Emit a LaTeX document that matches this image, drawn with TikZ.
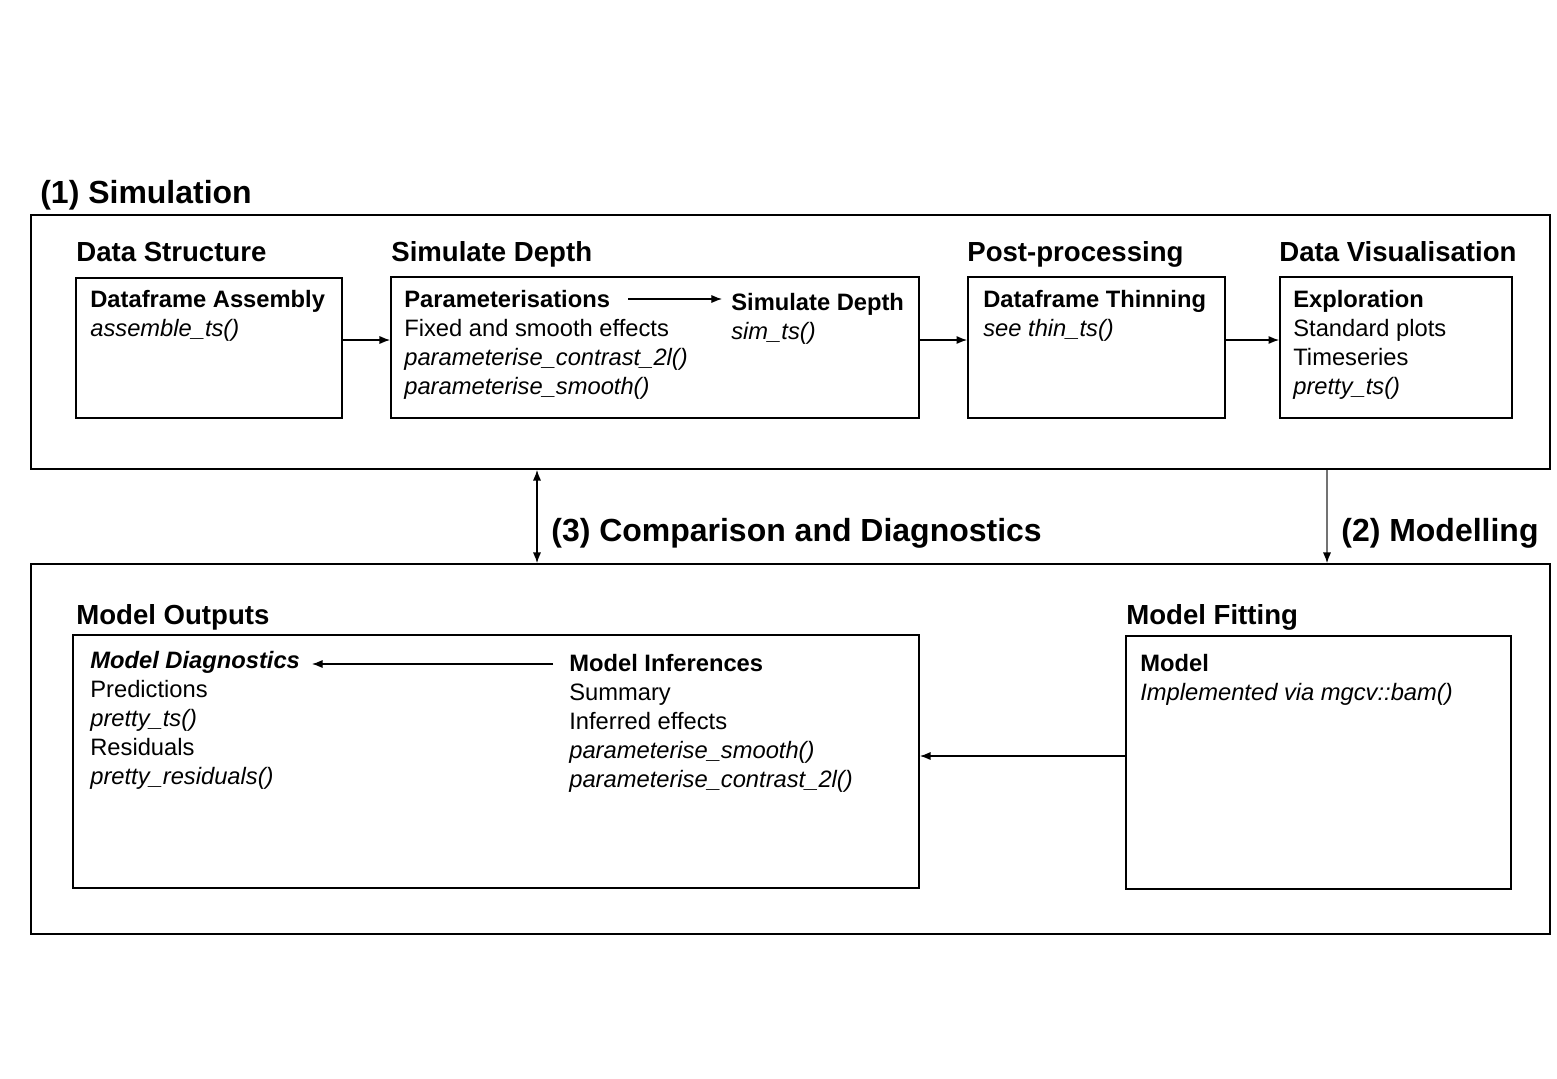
\documentclass[tikz,border=0pt]{standalone}
\usepackage{fontspec}
\setmainfont{Liberation Sans}
\usetikzlibrary{arrows.meta,positioning,fit}

\tikzset{
  box/.style={draw,line width=1.1pt,inner sep=0pt},
  txt/.style={anchor=north west,inner sep=0pt,align=left,font=\fontsize{13.5}{16.5}\selectfont},
  head/.style={anchor=base west,inner sep=0pt,font=\fontsize{15.7}{19}\selectfont\bfseries},
  part/.style={anchor=base west,inner sep=0pt,font=\fontsize{18.2}{22}\selectfont\bfseries},
  link/.style={line width=0.6pt,-{Latex[length=6pt,width=4.6pt]}},
}

\begin{document}
\begin{tikzpicture}[x=0.02cm,y=-0.02cm]
\useasboundingbox (0,0) rectangle (1557,1078);
% the two panels
\node[box,fit={(31,215) (1550,469)}] (simpanel) {};
\node[box,fit={(31,564) (1550,934)}] (modpanel) {};
\node[part] (simlabel) at (40,203) {(1) Simulation};
\node[part] (cmplabel) at (551,541) {(3) Comparison and Diagnostics};
\node[part] (modlabel) at (1341,541) {(2) Modelling};
% simulation
\node[head] (dshead) at (76,261) {Data Structure};
\node[head] (sdhead) at (391,261) {Simulate Depth};
\node[head] (pphead) at (967,261) {Post-processing};
\node[head] (dvhead) at (1279,261) {Data Visualisation};
\node[box,fit={(76,278) (342,418)}] (dsbox) {};
\node[box,fit={(391,277) (919,418)}] (sdbox) {};
\node[box,fit={(968,277) (1225,418)}] (ppbox) {};
\node[box,fit={(1280,277) (1512,418)}] (dvbox) {};
\node[txt] (assembly) at (90,287) {\strut\textbf{Dataframe Assembly}\\\textit{assemble\_ts()}};
\node[txt] (param) at (404,287) {\strut\textbf{Parameterisations}\\Fixed and smooth effects\\\textit{parameterise\_contrast\_2l()}\\\textit{parameterise\_smooth()}};
\node[txt] (simdepth) at (731,290) {\strut\textbf{Simulate Depth}\\\textit{sim\_ts()}};
\node[txt] (thin) at (983,287) {\strut\textbf{Dataframe Thinning}\\\textit{see thin\_ts()}};
\node[txt] (explore) at (1293,287) {\strut\textbf{Exploration}\\Standard plots\\Timeseries\\\textit{pretty\_ts()}};
\coordinate (row1) at (0,340);
\coordinate (paramout) at (628,299);
\coordinate (simin) at (722,299);
\draw[link] (paramout) -- (simin);
\draw[link] (dsbox.east |- row1) -- (sdbox.west |- row1);
\draw[link] (sdbox.east |- row1) -- (ppbox.west |- row1);
\draw[link] (ppbox.east |- row1) -- (dvbox.west |- row1);
% between panels
\coordinate (col3) at (537,0);
\coordinate (col2) at (1327,0);
\draw[line width=0.6pt,{Latex[length=6pt,width=4.6pt]}-{Latex[length=6pt,width=4.6pt]}] (simpanel.south -| col3) -- (modpanel.north -| col3);
\draw[line width=0.6pt,draw=black!55,-{Latex[length=6pt,width=4.6pt,black]}] (simpanel.south -| col2) -- (modpanel.north -| col2);
% modelling
\node[head] (mohead) at (76,624) {Model Outputs};
\node[head] (mfhead) at (1126,624) {Model Fitting};
\node[box,fit={(73,635) (919,888)}] (mobox) {};
\node[box,fit={(1126,636) (1511,889)}] (mfbox) {};
\node[txt] (diag) at (90,648) {\strut\textbf{\textit{Model Diagnostics}}\\Predictions\\\textit{pretty\_ts()}\\Residuals\\\textit{pretty\_residuals()}};
\node[txt] (infer) at (569,651) {\strut\textbf{Model Inferences}\\Summary\\Inferred effects\\\textit{parameterise\_smooth()}\\\textit{parameterise\_contrast\_2l()}};
\node[txt] (model) at (1140,651) {\strut\textbf{Model}\\\textit{Implemented via mgcv::bam()}};
\coordinate (row5) at (0,756);
\coordinate (inferout) at (553,664);
\coordinate (diagin) at (312,664);
\draw[link] (inferout) -- (diagin);
\draw[link] (mfbox.west |- row5) -- (mobox.east |- row5);
\end{tikzpicture}
\end{document}
